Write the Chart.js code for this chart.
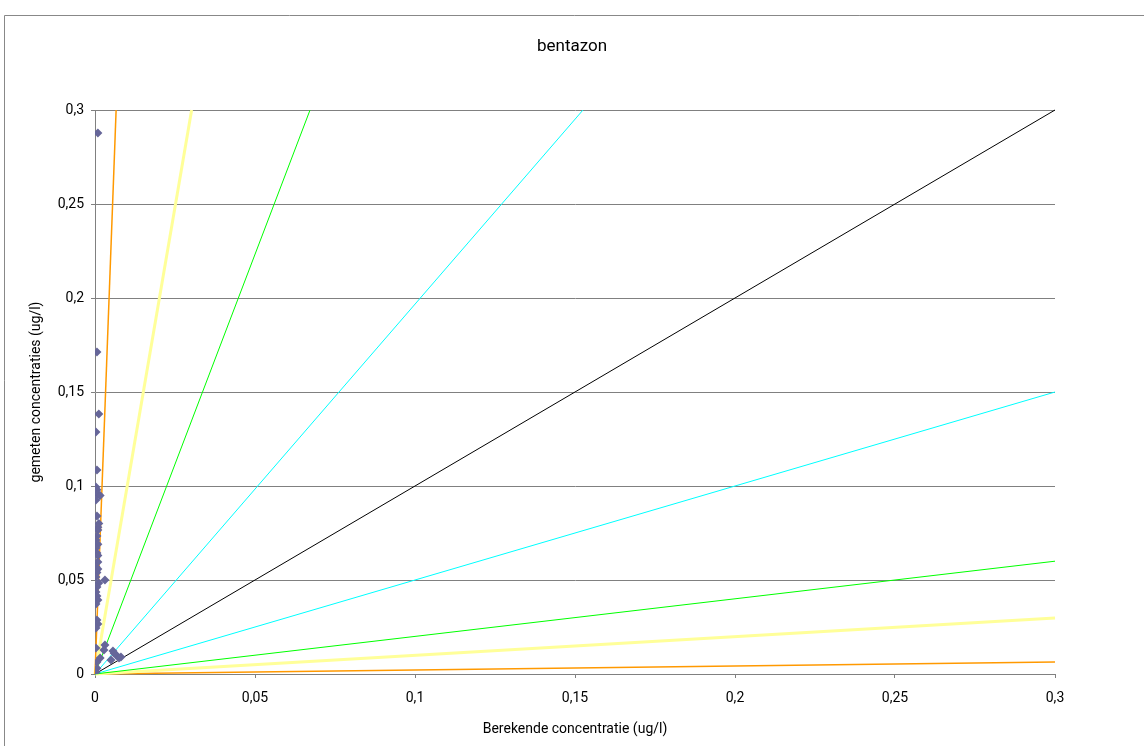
<!DOCTYPE html>
<html>
<head>
<meta charset="utf-8">
<script src="https://cdn.jsdelivr.net/npm/chart.js@4.4.0/dist/chart.umd.min.js"></script>
<style>
  html, body { margin: 0; padding: 0; background: #fff; }
  #wrap { width: 1144px; height: 746px; }
</style>
</head>
<body>
<div id="wrap"><canvas id="myChart" width="1144" height="746"></canvas></div>
<script>
// gemeten vs berekende concentraties (ug/l)
const berekend = [0.0009, 0.0006, 0.0012, 0.0003, 0.0006, 0.0003, 0.0006, 0.0009, 0.0016, 0.0003,
    0.0006, 0.0012, 0.0009, 0.0009, 0.0006, 0.0003, 0.0009, 0.0003, 0.0006, 0.0009,
    0.0009, 0.0003, 0.0009, 0.0006, 0.0003, 0.0031, 0.0012, 0.0006, 0.0003, 0.0006,
    0.0009, 0.0003, 0.0006, 0.0009, 0.0003, 0.0003, 0.0031, 0.0028, 0.0016, 0.0006,
    0.0056, 0.0066, 0.0075, 0.0081, 0.005, 0.006, 0.0006, 0.0003];
const gemeten = [0.2878, 0.1713, 0.1383, 0.1287, 0.1085, 0.0995, 0.098, 0.0957, 0.095, 0.0925,
    0.084, 0.080, 0.078, 0.0766, 0.0734, 0.0713, 0.069, 0.067, 0.0644, 0.063,
    0.0596, 0.057, 0.0559, 0.054, 0.0516, 0.050, 0.0484, 0.0463, 0.0436, 0.0415,
    0.0394, 0.0372, 0.0287, 0.0266, 0.0245, 0.0138, 0.0154, 0.0128, 0.0085, 0.0064,
    0.0122, 0.0101, 0.0085, 0.009, 0.0074, 0.011, 0.003, 0.001];

// referentielijnen vanuit de oorsprong: eindpunten
const lijnEindX = [0.0066, 0.0302, 0.0672, 0.1525, 0.3, 0.3, 0.3, 0.3, 0.3];
const lijnEindY = [0.3, 0.3, 0.3, 0.3, 0.3, 0.15, 0.06, 0.0298, 0.0064];
const lijnKleur = ['#ff9900', '#ffff99', '#00ff00', '#00ffff', '#000000', '#00ffff', '#00ff00', '#ffff99', '#ff9900'];
const lijnDikte = [1.5, 3, 1, 1, 1, 1, 1, 3, 1.5];

const yTickLabels = ['0', '0,05', '0,1', '0,15', '0,2', '0,25', '0,3'];
const xTickLabels = ['0', '0,05', '0,1', '0,15', '0,2', '0,25', '0,3'];

// meetpunten eerst, zodat ze boven de lijnen getekend worden
const datasets = [{
    data: berekend.map((x, i) => ({x: x, y: gemeten[i]})),
    pointStyle: 'rectRot',
    pointRadius: 4.5,
    backgroundColor: '#666699',
    borderColor: '#666699',
    borderWidth: 0,
    showLine: false,
    order: 0
}];

lijnEindX.forEach((ex, i) => datasets.push({
    data: [{x: 0, y: 0}, {x: ex, y: lijnEindY[i]}],
    showLine: true,
    borderColor: lijnKleur[i],
    borderWidth: lijnDikte[i],
    pointRadius: 0,
    clip: 4,
    order: 1
}));

// kader rond de grafiek
const kader = {
    id: 'kader',
    beforeDraw(chart) {
        const ctx = chart.ctx;
        ctx.save();
        ctx.fillStyle = '#fff';
        ctx.fillRect(0, 0, chart.width, chart.height);
        ctx.strokeStyle = '#888';
        ctx.lineWidth = 1;
        ctx.beginPath();
        ctx.moveTo(4.5, chart.height);
        ctx.lineTo(4.5, 15.5);
        ctx.lineTo(chart.width, 15.5);
        ctx.stroke();
        ctx.restore();
    }
};

const tickFont = {family: 'Roboto', size: 14};

new Chart(document.getElementById('myChart'), {
    type: 'scatter',
    data: {datasets: datasets},
    options: {
        responsive: false,
        animation: false,
        layout: {padding: 0},
        plugins: {
            legend: {display: false},
            tooltip: {enabled: false},
            title: {
                display: true,
                text: 'bentazon',
                color: '#000',
                font: {family: 'Roboto', size: 17, weight: 'normal', lineHeight: 1.2},
                padding: {top: 37, bottom: 52.6}
            }
        },
        scales: {
            x: {
                min: 0, max: 0.3,
                ticks: {
                    stepSize: 0.05,
                    color: '#000',
                    font: tickFont,
                    padding: 12,
                    maxRotation: 0,
                    callback: (v, i) => xTickLabels[i]
                },
                grid: {drawOnChartArea: false, drawTicks: true, tickLength: 4, color: '#808080'},
                border: {color: '#808080'},
                title: {
                    display: true,
                    text: 'Berekende concentratie (ug/l)',
                    color: '#000',
                    font: {family: 'Roboto', size: 14, lineHeight: 1.2},
                    padding: {top: 8, bottom: 8}
                },
                afterFit(scale) { scale.height = 72; }
            },
            y: {
                min: 0, max: 0.3,
                ticks: {
                    stepSize: 0.05,
                    color: '#000',
                    font: tickFont,
                    padding: 7,
                    callback: (v, i) => yTickLabels[i]
                },
                grid: {color: '#808080', tickLength: 4},
                border: {color: '#808080'},
                title: {
                    display: true,
                    text: 'gemeten concentraties (ug/l)',
                    color: '#000',
                    font: {family: 'Roboto', size: 14, lineHeight: 1.2},
                    padding: {top: 28, bottom: 28}
                },
                afterFit(scale) { scale.width = 95; }
            },
            // lege ruimte rechts van het plotgebied
            rechts: {
                position: 'right',
                min: 0, max: 0.3,
                ticks: {display: false},
                grid: {display: false},
                border: {display: false},
                afterFit(scale) { scale.width = 89; }
            }
        }
    },
    plugins: [kader]
});
</script>
</body>
</html>
